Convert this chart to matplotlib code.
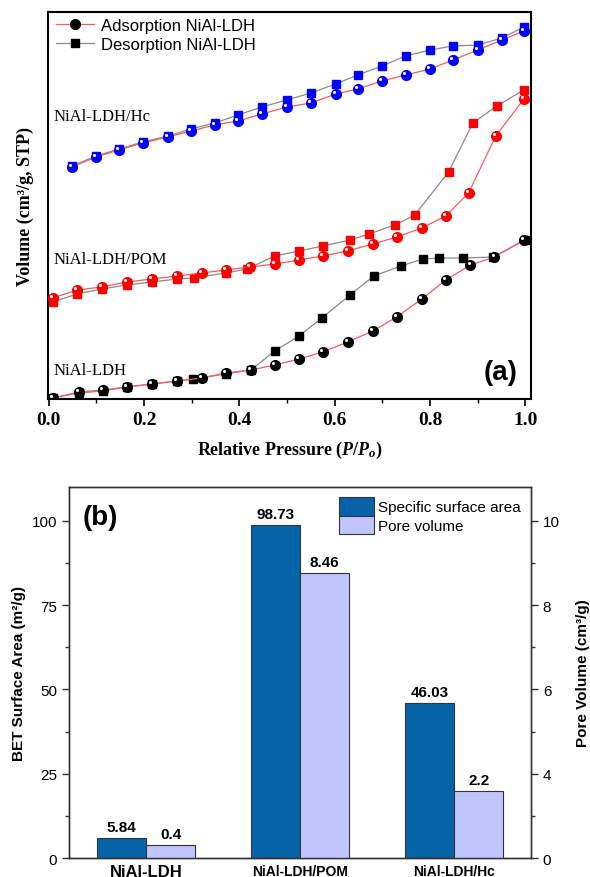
import numpy as np
import matplotlib
matplotlib.use("Agg")
import matplotlib.pyplot as plt
from matplotlib.lines import Line2D
from matplotlib.transforms import offset_copy

plt.rcParams['font.family'] = ['Liberation Sans', 'DejaVu Sans']
plt.rcParams['mathtext.fontset'] = 'custom'
plt.rcParams['mathtext.rm'] = 'Liberation Serif:bold'
plt.rcParams['mathtext.it'] = 'Liberation Serif:italic:bold'

# (a) N2 isotherms, volume in arbitrary stacked units
ldh_p_ads = [0.008, 0.063, 0.113, 0.164, 0.216, 0.269, 0.321, 0.371, 0.424, 0.474,
             0.525, 0.575, 0.627, 0.680, 0.730, 0.783, 0.833, 0.885, 0.935, 0.997]
ldh_v_ads = [1, 7, 9, 12, 15, 18, 21, 26, 29, 34, 40, 47, 57, 68, 82, 100, 119, 134, 142, 159]
ldh_p_des = [0.008, 0.063, 0.113, 0.164, 0.216, 0.269, 0.302, 0.371, 0.424, 0.474,
             0.525, 0.573, 0.632, 0.682, 0.739, 0.785, 0.818, 0.869, 0.932, 1.0]
ldh_v_des = [1, 6, 8, 12, 15, 18, 20, 25, 29, 48, 63, 81, 104, 123, 133, 140, 141, 141, 142, 159]

pom_p_ads = [0.008, 0.059, 0.111, 0.164, 0.216, 0.269, 0.321, 0.371, 0.422, 0.474,
             0.525, 0.575, 0.627, 0.680, 0.730, 0.783, 0.833, 0.881, 0.938, 0.997]
pom_v_ads = [101, 109, 112, 117, 120, 123, 126, 129, 132, 135,
             139, 143, 148, 155, 162, 171, 183, 206, 263, 300]
pom_p_des = [0.008, 0.059, 0.111, 0.164, 0.216, 0.269, 0.304, 0.371, 0.416, 0.474,
             0.525, 0.575, 0.632, 0.672, 0.726, 0.768, 0.839, 0.890, 0.940, 0.997]
pom_v_des = [97, 105, 110, 114, 117, 120, 121, 126, 130, 143,
             148, 153, 159, 165, 174, 184, 227, 276, 293, 309]

hc_p = [0.048, 0.099, 0.147, 0.197, 0.250, 0.298, 0.348, 0.397, 0.447, 0.499,
        0.550, 0.602, 0.648, 0.699, 0.749, 0.800, 0.848, 0.900, 0.951, 0.997]
hc_v_ads = [232, 242, 249, 256, 262, 268, 274, 278, 285, 292,
            296, 305, 310, 318, 324, 330, 339, 349, 359, 368]
hc_v_des = [233, 243, 250, 257, 263, 270, 276, 284, 292, 299,
            306, 315, 324, 333, 343, 349, 353, 354, 361, 372]

# (b) BET results
samples = ['NiAl-LDH', 'NiAl-LDH/POM', 'NiAl-LDH/Hc']
bet_area = [5.84, 98.73, 46.03]
pore_volume = [0.39, 8.46, 1.99]
pore_labels = ['0.4', '8.46', '2.2']
right_ticks = [0, 2.5, 5, 7.5, 10]
right_ticklabels = ['0', '4', '6', '8', '10']

fig = plt.figure(figsize=(5.9, 8.78), dpi=100)
ax1 = fig.add_axes([0.082, 0.5444, 0.818, 0.4408])
ax2 = fig.add_axes([0.117, 0.0216, 0.783, 0.4226])

serif = 'Liberation Serif'
ads_line = '#ff5a5a'
des_line = '#8a8a8a'
hl = offset_copy(ax1.transData, fig=fig, x=-1.1, y=1.1, units='points')


def isotherm(p_ads, v_ads, p_des, v_des, color):
    ax1.plot(p_des, v_des, '-', color=des_line, lw=0.9, marker='s', ms=6,
             mfc=color, mec=color, zorder=3)
    ax1.plot(p_ads, v_ads, '-', color=ads_line, lw=0.9, marker='o', ms=7,
             mfc=color, mec=color, zorder=4)
    ax1.plot(p_ads, v_ads, 'o', ms=2.2, color='white', mec='none', transform=hl, zorder=5)


isotherm(ldh_p_ads, ldh_v_ads, ldh_p_des, ldh_v_des, 'black')
isotherm(pom_p_ads, pom_v_ads, pom_p_des, pom_v_des, 'red')
isotherm(hc_p, hc_v_ads, hc_p, hc_v_des, 'blue')

ax1.set_xlim(-0.001, 1.012)
ax1.set_ylim(0, 387)
ax1.set_yticks([])
ax1.set_xticks(np.arange(0, 1.01, 0.2))
ax1.set_xticks(np.arange(0.1, 1.0, 0.2), minor=True)
ax1.tick_params(axis='x', direction='out', length=5, width=1.2, labelsize=14)
ax1.tick_params(axis='x', which='minor', length=3, width=1)
for lab in ax1.get_xticklabels():
    lab.set_fontfamily(serif)
    lab.set_fontweight('bold')
for s in ax1.spines.values():
    s.set_linewidth(1.5)
ax1.set_xlabel(r'Relative Pressure $(P/P_o)$', fontfamily=serif, fontweight='bold',
               fontsize=13, labelpad=8)
ax1.set_ylabel('Volume (cm³/g, STP)', fontfamily=serif, fontweight='bold', fontsize=13,
               labelpad=10)

ax1.text(0.0105, 283, 'NiAl-LDH/Hc', fontfamily=serif, fontsize=12, va='center')
ax1.text(0.0105, 140, 'NiAl-LDH/POM', fontfamily=serif, fontsize=12, va='center')
ax1.text(0.0105, 29, 'NiAl-LDH', fontfamily=serif, fontsize=12, va='center')
ax1.text(0.973, 0.07, '(a)', transform=ax1.transAxes, ha='right', va='center',
         fontsize=20, fontweight='bold')

handles = [
    Line2D([], [], color=ads_line, lw=0.9, marker='o', ms=7, mfc='black', mec='black'),
    Line2D([], [], color=des_line, lw=0.9, marker='s', ms=6, mfc='black', mec='black'),
]
ax1.legend(handles, ['Adsorption NiAl-LDH', 'Desorption NiAl-LDH'], loc='upper left',
           bbox_to_anchor=(-0.005, 1.01), frameon=False, fontsize=12,
           handlelength=2.3, handletextpad=0.4, labelspacing=0.25, borderaxespad=0.2)

# (b) bars
x = np.arange(len(samples))
w = 0.32
ax3 = ax2.twinx()
b1 = ax2.bar(x - w / 2, bet_area, w, color='#0563a8', edgecolor='#333333', lw=0.8,
             label='Specific surface area')
b2 = ax3.bar(x + w / 2, pore_volume, w, color='#bfc6ff', edgecolor='#333333', lw=0.8,
             label='Pore volume')
ax2.bar_label(b1, labels=[f'{v:g}' for v in bet_area], padding=3, fontsize=11,
              fontweight='bold')
ax3.bar_label(b2, labels=pore_labels, padding=3, fontsize=11, fontweight='bold')

ax2.set_xlim(-0.5, 2.5)
ax2.set_ylim(0, 110)
ax3.set_ylim(0, 11)
ax2.set_yticks([0, 25, 50, 75, 100])
ax2.set_yticks(np.arange(12.5, 110, 25), minor=True)
ax3.set_yticks(right_ticks, right_ticklabels)
ax3.set_yticks(np.arange(1.25, 11, 2.5), minor=True)
ax2.set_xticks(x, samples)
ax2.tick_params(axis='x', length=0, pad=4)
for lab in ax2.get_xticklabels():
    lab.set_fontweight('bold')
    lab.set_fontsize(10)
ax2.get_xticklabels()[0].set_fontsize(12)
for a in (ax2, ax3):
    a.tick_params(axis='y', which='major', length=5, width=1, labelsize=11, color='#333333')
    a.tick_params(axis='y', which='minor', length=3, width=1, color='#333333')
    for s in a.spines.values():
        s.set_linewidth(1)
        s.set_color('#333333')
ax2.set_ylabel('BET Surface Area (m²/g)', fontsize=11, fontweight='bold')
ax3.set_ylabel('Pore Volume (cm³/g)', fontsize=11, fontweight='bold', labelpad=12)
ax2.text(0.03, 0.955, '(b)', transform=ax2.transAxes, ha='left', va='top', fontsize=20,
         fontweight='bold')
ax2.legend([b1, b2], ['Specific surface area', 'Pore volume'], loc='upper right',
           bbox_to_anchor=(1.0, 1.0), frameon=False, fontsize=11, handlelength=2.3,
           handleheight=1.5, handletextpad=0.3, labelspacing=0.0, borderaxespad=0.25)

fig.savefig('out.png', dpi=100)
